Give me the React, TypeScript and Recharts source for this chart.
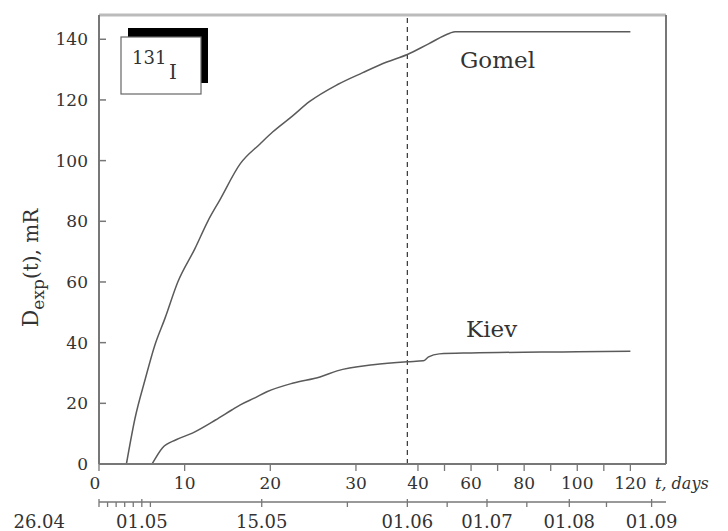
import React from "react";
import { LineChart, Line, XAxis, YAxis, ReferenceLine } from "recharts";

// time axis is split at 01.06 (day 36): days after it are squeezed
const BREAK_DAY = 36;
const LATE_SCALE = 0.31;
const toAxis = (t: number) => (t <= BREAK_DAY ? t : BREAK_DAY + (t - BREAK_DAY) * LATE_SCALE);
const X_MAX = 66.2;
const Y_MAX = 148;

const gomelDays = [3.2, 4.2, 5.4, 6.5, 7.7, 9.2, 11.2, 12.7, 14.1, 16.5, 18.8, 20.3, 22.5, 24.6, 27.8, 30.8, 33.6, 36, 44, 52, 54, 120];
const gomelDose = [0, 15, 28, 39, 48, 60, 71, 80, 87, 99, 105.5, 109.5, 114.5, 119.5, 125, 129, 132.5, 135, 138.5, 142, 142.5, 142.5];

const kievDays = [6.2, 7.4, 9, 10.9, 13.6, 15.5, 16.5, 18.2, 19.6, 22.7, 25.8, 27.8, 32, 36, 42, 44, 48, 60, 100, 120];
const kievDose = [0, 5.3, 8, 10.2, 14.5, 17.8, 19.5, 21.8, 23.8, 26.7, 28.7, 30.7, 32.7, 33.7, 34, 35.3, 36.3, 36.6, 37, 37.2];

const doseTicks = [0, 20, 40, 60, 80, 100, 120, 140];

const dayTicks = [0, 10, 20, 30, 40, 50, 60, 70, 80, 90, 100, 110, 120];
const dayLabels = ["0", "10", "20", "30", "40", "", "60", "", "80", "", "100", "", "120"];

const dateTickDays = [0, 1, 2, 3, 4, 5, 6, 19, 29, 36, 51, 66, 81, 97, 111, 128];
const dateTickLabels = ["26.04", "", "", "", "", "01.05", "", "15.05", "", "01.06", "", "01.07", "", "01.08", "", "01.09"];

const gomelData = gomelDays.map((t, i) => ({ u: toAxis(t), dose: gomelDose[i] }));
const kievData = kievDays.map((t, i) => ({ u: toAxis(t), dose: kievDose[i] }));

const FONT = "'DejaVu Serif', serif";
const AXIS = "#777";
const INK = "#333";

const findIndex = (list: number[], v: number) => list.findIndex((d) => Math.abs(toAxis(d) - v) < 1e-6);

const DoseTick = (props: any) => {
  const { x, y, payload } = props;
  const ax = x + 11;
  return (
    <g>
      <line x1={ax} x2={ax + 7} y1={y} y2={y} stroke={AXIS} strokeWidth={1.5} />
      <text x={x} y={y} textAnchor="end" dominantBaseline="central" fontSize={17} fill={INK} fontFamily={FONT}>
        {payload.value}
      </text>
    </g>
  );
};

const DayTick = (props: any) => {
  const { x, y, payload } = props;
  const i = findIndex(dayTicks, payload.value);
  const label = i >= 0 ? dayLabels[i] : "";
  return (
    <text x={i === 0 ? x - 4 : x} y={y + 8} textAnchor="middle" dominantBaseline="central" fontSize={17} fill={INK} fontFamily={FONT}>
      {label}
    </text>
  );
};

const DateTick = (props: any) => {
  const { x, y, payload } = props;
  const i = findIndex(dateTickDays, payload.value);
  const label = i >= 0 ? dateTickLabels[i] : "";
  const major = label !== "";
  return (
    <g>
      <line x1={x} x2={x} y1={major ? y - 3 : y} y2={y + 5} stroke={AXIS} strokeWidth={1.3} />
      {label && (
        <text
          x={i === 0 ? x - 34 : x}
          y={y + 19}
          textAnchor={i === 0 ? "end" : "middle"}
          dominantBaseline="central"
          fontSize={18}
          fill={INK}
          fontFamily={FONT}
        >
          {label}
        </text>
      )}
    </g>
  );
};

export default function App() {
  return (
    <div style={{ position: "absolute", left: 0, top: 0, width: 728, height: 531, background: "#fff" }}>
      <LineChart width={728} height={531} data={kievData} margin={{ top: 15, right: 62, bottom: 0, left: 0 }}>
        <XAxis
          xAxisId="days"
          type="number"
          dataKey="u"
          domain={[0, X_MAX]}
          ticks={dayTicks.map(toAxis)}
          interval={0}
          allowDataOverflow
          height={38}
          tickSize={7}
          tickMargin={4}
          tick={<DayTick />}
          axisLine={{ stroke: AXIS, strokeWidth: 2 }}
          tickLine={{ stroke: AXIS, strokeWidth: 1.3 }}
        />
        <XAxis
          xAxisId="period"
          type="number"
          dataKey="u"
          domain={[0, X_MAX]}
          ticks={dateTickDays.map(toAxis)}
          interval={0}
          allowDataOverflow
          height={29}
          tickSize={0}
          tickMargin={0}
          tick={<DateTick />}
          tickLine={false}
          axisLine={{ stroke: AXIS, strokeWidth: 1.5 }}
        />
        <YAxis
          type="number"
          domain={[0, Y_MAX]}
          ticks={doseTicks}
          interval={0}
          width={99}
          tickSize={0}
          tickMargin={11}
          tickLine={false}
          tick={<DoseTick />}
          axisLine={{ stroke: AXIS, strokeWidth: 2 }}
        />
        <ReferenceLine xAxisId="days" y={Y_MAX} stroke="#bbb" strokeWidth={3} />
        <ReferenceLine xAxisId="days" x={X_MAX} stroke={AXIS} strokeWidth={2} />
        <ReferenceLine xAxisId="days" x={BREAK_DAY} stroke={INK} strokeWidth={1.2} strokeDasharray="5 4" />
        <Line xAxisId="days" data={gomelData} dataKey="dose" type="monotone" stroke="#5a5a5a" strokeWidth={1.5} dot={false} isAnimationActive={false} />
        <Line xAxisId="days" data={kievData} dataKey="dose" type="monotone" stroke="#5a5a5a" strokeWidth={1.5} dot={false} isAnimationActive={false} />
      </LineChart>
      <svg width={728} height={531} style={{ position: "absolute", left: 0, top: 0, pointerEvents: "none" }} fontFamily={FONT}>
        <rect x={128} y={28} width={80} height={55} fill="#000" />
        <rect x={121} y={37} width={80} height={57} fill="#fff" stroke="#666" strokeWidth={1.2} />
        <text x={132} y={64} fontSize={18} fill={INK}>131</text>
        <text x={169} y={79} fontSize={20} fill={INK}>I</text>
        <text x={460} y={68} fontSize={23} fill={INK}>Gomel</text>
        <text x={466} y={337} fontSize={23} fill={INK}>Kiev</text>
        <text x={655} y={483} fontSize={16} fontStyle="italic" dominantBaseline="central" fill={INK}>t, days</text>
        <text transform="translate(38,268) rotate(-90)" textAnchor="middle" fill={INK}>
          <tspan fontSize={22}>D</tspan>
          <tspan fontSize={17} dy={6}>exp</tspan>
          <tspan fontSize={20} dy={-6}>(t), mR</tspan>
        </text>
      </svg>
    </div>
  );
}
